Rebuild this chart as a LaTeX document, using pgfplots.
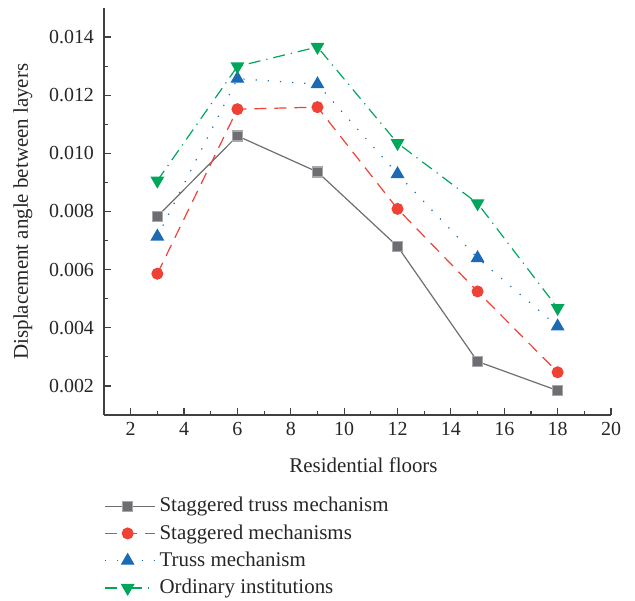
\documentclass[border=0pt]{standalone}
\usepackage{fontspec}
\setmainfont{Liberation Serif}
\usepackage{pgfplots}
\pgfplotsset{compat=1.18}
\definecolor{cgray}{RGB}{109,110,113}
\definecolor{cred}{RGB}{239,65,54}
\definecolor{cblue}{RGB}{28,106,180}
\definecolor{cgreen}{RGB}{0,166,90}
\begin{document}
\begin{tikzpicture}
\begin{axis}[
  scale only axis,
  width=253.5bp, height=203.5bp,
  xmin=1, xmax=20, ymin=0.001, ymax=0.015,
  axis x line*=bottom, axis y line*=left,
  axis line style={line width=0.7bp, color=black!75},
  tick align=inside,
  major tick length=3.5bp, minor tick length=2bp,
  tick style={line width=0.6bp, color=black!75},
  xtick={2,4,...,20}, minor xtick={3,5,...,19},
  ytick={0.002,0.004,...,0.0141}, minor ytick={0.001,0.003,...,0.0131},
  scaled y ticks=false,
  yticklabel style={/pgf/number format/fixed, /pgf/number format/fixed zerofill, /pgf/number format/precision=3, xshift=-1.5bp},
  /pgf/number format/assume math mode=true,
  every tick label/.append style={font=\fontsize{10}{12}\selectfont, color=black!85},
  label style={font=\fontsize{10.5}{12}\selectfont, color=black!85},
  xlabel={Residential floors},
  ylabel={Displacement angle between layers},
  xlabel style={at={(axis description cs:0.5,0)}, anchor=center, yshift=-25bp, xshift=3bp},
  ylabel style={at={(axis description cs:0,0.5)}, anchor=center, yshift=40.5bp},
  legend style={draw=none, fill=none, at={(axis description cs:0,0)}, anchor=north west, yshift=-39bp, xshift=0bp,
    font=\fontsize{10.5}{12}\selectfont, text=black!85, inner sep=0pt, row sep=0.9bp},
  legend cell align=left,
  legend image code/.code={\path (0bp,0bp) -- (25bp,0bp);\draw[mark repeat=2,mark phase=2,#1] plot coordinates {(0cm,0cm)(0.4cm,0cm)(0.8cm,0cm)};},
]
\addplot[cgray, line width=0.6bp, mark=square*, mark size=2.5bp, mark options={solid, fill=cgray, draw=cgray!60}]
  coordinates {(3,0.00783)(6,0.0106)(9,0.00936)(12,0.0068)(15,0.00284)(18,0.00184)};
\addlegendentry{Staggered truss mechanism}
\addplot[cred, line width=0.6bp, dash pattern=on 6bp off 4bp, mark=*, mark size=2.7bp, mark options={solid, fill=cred, draw=cred}]
  coordinates {(3,0.00586)(6,0.01152)(9,0.01159)(12,0.00809)(15,0.00525)(18,0.00247)};
\addlegendentry{Staggered mechanisms}
\addplot[cblue, line width=0.6bp, dash pattern=on 0.6bp off 5.5bp, mark=triangle*, mark size=3.4bp, mark options={solid, fill=cblue, draw=cblue}]
  coordinates {(3,0.00714)(6,0.01257)(9,0.01238)(12,0.00929)(15,0.0064)(18,0.00405)};
\addlegendentry{Truss mechanism}
\addplot[cgreen, line width=0.6bp, dash pattern=on 6bp off 3bp on 0.6bp off 3bp, mark=triangle*, mark size=3.4bp, mark options={solid, rotate=180, fill=cgreen, draw=cgreen}]
  coordinates {(3,0.00906)(6,0.01299)(9,0.01366)(12,0.01035)(15,0.00828)(18,0.00468)};
\addlegendentry{Ordinary institutions}
\end{axis}
\path ([xshift=-52bp, yshift=-92bp]current axis.south west) rectangle ([xshift=12bp, yshift=4bp]current axis.north east);
\end{tikzpicture}
\end{document}
